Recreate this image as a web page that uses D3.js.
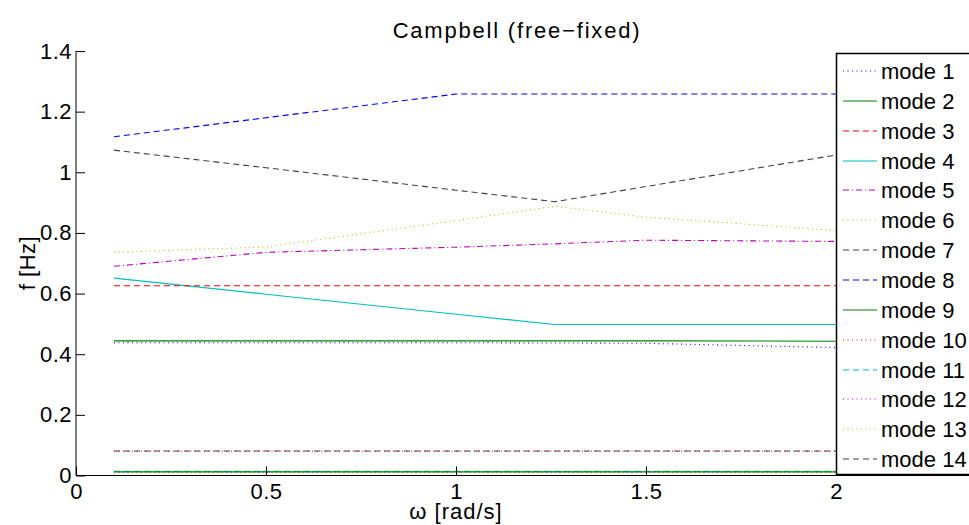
<!DOCTYPE html>
<html>
<head>
<meta charset="utf-8">
<script src="https://cdn.jsdelivr.net/npm/d3@7"></script>
<style>
  html, body { margin: 0; padding: 0; background: #fff; }
  svg { display: block; font-family: "Liberation Sans", Arial, Helvetica, sans-serif; }
</style>
</head>
<body>
<svg id="chart" width="969" height="525"></svg>
<script>
// Rotor speed samples (rad/s)
const omega = [0.1, 0.5, 1.0, 1.26, 1.5, 2.0];

// Natural frequencies per mode (Hz)
const mode1  = [0.438, 0.438, 0.438, 0.437, 0.436, 0.422];
const mode2  = [0.444, 0.444, 0.444, 0.444, 0.444, 0.443];
const mode3  = [0.626, 0.626, 0.626, 0.626, 0.626, 0.626];
const mode4  = [0.651, 0.598, 0.532, 0.498, 0.498, 0.498];
const mode5  = [0.690, 0.736, 0.753, 0.764, 0.776, 0.772];
const mode6  = [0.736, 0.754, 0.841, 0.888, 0.852, 0.808];
const mode7  = [1.073, 1.015, 0.941, 0.903, 0.953, 1.057];
const mode8  = [1.117, 1.180, 1.258, 1.258, 1.258, 1.258];
const mode9  = [0.012, 0.012, 0.012, 0.012, 0.012, 0.012];
const mode10 = [0.080, 0.080, 0.080, 0.080, 0.080, 0.080];
const mode11 = [0.014, 0.014, 0.014, 0.014, 0.014, 0.014];
const mode12 = [0.012, 0.012, 0.012, 0.012, 0.012, 0.012];
const mode13 = [0.011, 0.011, 0.011, 0.011, 0.011, 0.011];
const mode14 = [0.081, 0.081, 0.081, 0.081, 0.081, 0.081];

const modeNames = ["mode 1","mode 2","mode 3","mode 4","mode 5","mode 6","mode 7",
                   "mode 8","mode 9","mode 10","mode 11","mode 12","mode 13","mode 14"];
const modeValues = [mode1, mode2, mode3, mode4, mode5, mode6, mode7,
                    mode8, mode9, mode10, mode11, mode12, mode13, mode14];

const xTicks = [0, 0.5, 1, 1.5, 2];
const yTicks = [0, 0.2, 0.4, 0.6, 0.8, 1, 1.2, 1.4];

// Classic colour order with cycling line styles
const colors = ["#0000ff", "#008000", "#ff0000", "#00bfbf", "#bf00bf", "#bfbf00", "#404040"];
const DOT = "1,3.5", DASH = "6,4", SOLID = null, DASHDOT = "6,3,1,3";
const styles = [DOT, SOLID, DASH, SOLID, DASHDOT, DOT, DASH,
                DASH, SOLID, DOT, DASH, DOT, DOT, DASH];

const series = modeNames.map((name, i) => ({
  name,
  color: colors[i % colors.length],
  dash: styles[i],
  points: omega.map((w, j) => ({ w, f: modeValues[i][j] }))
}));

const svg = d3.select("#chart");
const x = d3.scaleLinear().domain([0, 2]).range([76, 836]);
const y = d3.scaleLinear().domain([0, 1.4]).range([475.5, 51]);

// Curves (drawn last-to-first so the lower mode numbers sit on top)
const line = d3.line().x(d => x(d.w)).y(d => y(d.f));
svg.append("g").selectAll("path")
  .data(series.slice().reverse())
  .join("path")
  .attr("d", d => line(d.points))
  .attr("fill", "none")
  .attr("stroke", d => d.color)
  .attr("stroke-width", 1.1)
  .attr("stroke-dasharray", d => d.dash);

// Axes (ticks pointing inward)
const xAxis = d3.axisBottom(x).tickValues(xTicks).tickSize(-9).tickPadding(8)
  .tickFormat(d3.format("~g"));
const yAxis = d3.axisLeft(y).tickValues(yTicks).tickSize(-9).tickPadding(4)
  .tickFormat(d3.format("~g"));

const gx = svg.append("g").attr("transform", `translate(0,${y(0)})`).call(xAxis);
const gy = svg.append("g").attr("transform", `translate(${x(0)},0)`).call(yAxis);
[gx, gy].forEach(g => {
  g.select(".domain").attr("stroke", "#000").attr("stroke-width", 1);
  g.selectAll(".tick line").attr("stroke", "#000").attr("stroke-width", 1);
  g.selectAll(".tick text").attr("fill", "#000")
    .style("font-size", "22px").style("letter-spacing", "0.5px");
});
gx.select(".domain").attr("d", `M${x(0)},0H969`);
gy.select(".domain").attr("d", `M0,${y(1.4)}V${y(0)}`);

// Title and axis labels
svg.append("text").attr("x", 517).attr("y", 38).attr("text-anchor", "middle")
  .style("font-size", "22px").style("letter-spacing", "1.8px")
  .text("Campbell (free\u2212fixed)");
svg.append("text").attr("x", 456).attr("y", 519).attr("text-anchor", "middle")
  .style("font-size", "22px").style("letter-spacing", "1px").text("\u03c9 [rad/s]");
svg.append("text").attr("transform", "translate(35,263) rotate(-90)")
  .attr("text-anchor", "middle").style("font-size", "22px").style("letter-spacing", "0.5px")
  .text("f [Hz]");

// Legend
const legend = svg.append("g");
legend.append("rect").attr("x", 836.5).attr("y", 53.5).attr("width", 140).attr("height", 421)
  .attr("fill", "#fff").attr("stroke", "#000").attr("stroke-width", 1.5);
const rowY = i => Math.round(71 + i * 29.85);
const items = legend.selectAll("g.item").data(series).join("g").attr("class", "item");
items.append("line")
  .attr("x1", 843).attr("x2", 877)
  .attr("y1", (d, i) => rowY(i)).attr("y2", (d, i) => rowY(i))
  .attr("stroke", d => d.color).attr("stroke-width", 1.1)
  .attr("stroke-dasharray", d => d.dash);
items.append("text")
  .attr("x", 881).attr("y", (d, i) => rowY(i) + 7.5)
  .style("font-size", "22px").text(d => d.name);
</script>
</body>
</html>
